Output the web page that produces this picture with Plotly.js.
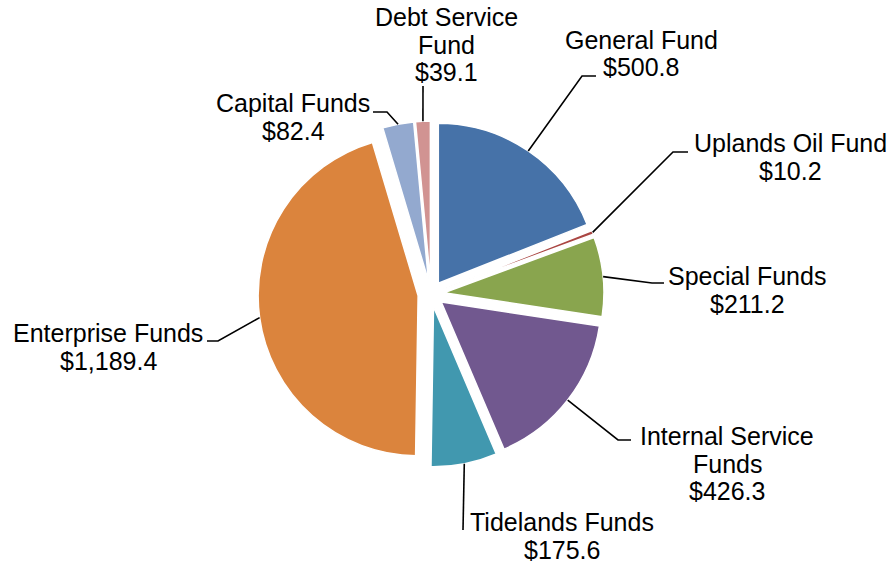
<!DOCTYPE html>
<html>
<head>
<meta charset="utf-8">
<script src="https://cdn.plot.ly/plotly-3.0.1.min.js"></script>
<style>html,body{margin:0;padding:0;background:#fff;}#chart{width:893px;height:565px;}</style>
</head>
<body>
<div id="chart"></div>
<script>
// ---- data ----
const categories = ["General Fund", "Uplands Oil Fund", "Special Funds", "Internal Service Funds",
                    "Tidelands Funds", "Enterprise Funds", "Capital Funds", "Debt Service Fund"];
const displayNames = [["General Fund"], ["Uplands Oil Fund"], ["Special Funds"], ["Internal Service", "Funds"],
                      ["Tidelands Funds"], ["Enterprise Funds"], ["Capital Funds"], ["Debt Service", "Fund"]];
const values = [500.8, 10.2, 211.2, 426.3, 175.6, 1189.4, 82.4, 39.1];
const colors = ["#4672A8", "#AA4643", "#89A54E", "#71588F", "#4198AF", "#DB843D", "#93A9CF", "#D19392"];

// ---- layout (pixels) ----
const W = 893, H = 565;
const CX = 431, CY = 294, R = 160, PULLPX = 13;
const PULL = PULLPX / R;
const OUTER = R + PULLPX;
// label text centre x, first-line centre y
const labelX = [641, 790, 747, 727, 562, 108, 293, 446];
const labelY = [40, 143, 276, 436, 522, 333, 103, 17];
const LINE = 27.5;
// leader-line points beyond the slice edge: [elbow, end]
const leaderPts = [
  [[582, 76], [596, 76]],
  [[673, 152], [688, 152]],
  [[652, 283], [664, 283]],
  [[618, 440], [631, 440]],
  [[463, 530], [463, 530]],
  [[218, 341], [207, 341]],
  [[387, 112], [373, 112]],
  [[423, 86], [423, 86]]
];

const px = x => x / W;
const py = y => 1 - y / H;

const total = values.reduce((a, b) => a + b, 0);
const fmt = v => "$" + v.toLocaleString("en-US", {minimumFractionDigits: 1, maximumFractionDigits: 1});

const annotations = [];
const shapes = [];
let cum = 0;
values.forEach((v, i) => {
  const mid = (cum + v / 2) / total * 2 * Math.PI;
  cum += v;
  const ex = CX + OUTER * Math.sin(mid);
  const ey = CY - OUTER * Math.cos(mid);
  const pts = [[ex, ey]].concat(leaderPts[i]);
  const path = pts.map((p, k) => (k ? "L" : "M") + px(p[0]).toFixed(5) + "," + py(p[1]).toFixed(5)).join(" ");
  shapes.push({type: "path", xref: "paper", yref: "paper", path: path,
               line: {color: "#000", width: 1.6}});
  const lines = displayNames[i].concat([fmt(v)]);
  lines.forEach((t, k) => {
    annotations.push({
      xref: "paper", yref: "paper", x: px(labelX[i]), y: py(labelY[i] + k * LINE),
      xanchor: "center", yanchor: "middle", showarrow: false, text: t,
      font: {family: "Liberation Sans, Arial, sans-serif", size: 25, color: "#000"}
    });
  });
});

const trace = {
  type: "pie",
  values: values,
  labels: categories,
  sort: false,
  direction: "clockwise",
  rotation: 0,
  pull: values.map(() => PULL),
  textinfo: "none",
  hoverinfo: "label+value",
  showlegend: false,
  marker: {colors: colors, line: {color: "#ffffff", width: 1.5}},
  domain: {x: [px(CX - OUTER), px(CX + OUTER)], y: [py(CY + OUTER), py(CY - OUTER)]}
};

Plotly.newPlot("chart", [trace], {
  width: W, height: H, autosize: false,
  margin: {l: 0, r: 0, t: 0, b: 0},
  paper_bgcolor: "#fff", plot_bgcolor: "#fff",
  shapes: shapes, annotations: annotations
}, {staticPlot: true});
</script>
</body>
</html>
